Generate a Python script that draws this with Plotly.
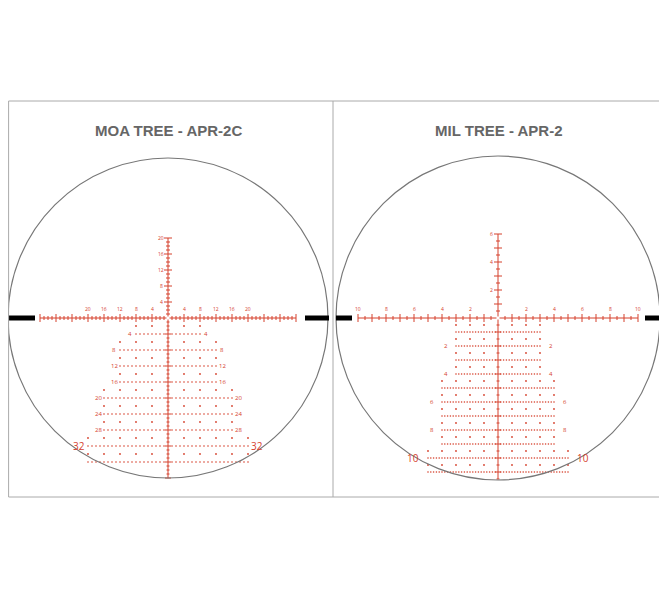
import plotly.graph_objects as go

RED = "#d5402c"
titles = ["MOA TREE - APR-2C", "MIL TREE - APR-2"]

# MOA reticle (units: MOA)
moa_h_labels = [4, 8, 12, 16, 20]
moa_v_labels = [4, 8, 12, 16, 20]
moa_rows = [4, 8, 12, 16, 20, 24, 28, 32, 36]
moa_row_half = [8, 12, 12, 12, 16, 16, 16, 20, 20]
moa_row_labels = ["4", "8", "12", "16", "20", "24", "28", "32", ""]

# MIL reticle (units: mil)
mil_h_labels = [2, 4, 6, 8, 10]
mil_v_labels = [2, 4, 6]
mil_rows = [1, 2, 3, 4, 5, 6, 7, 8, 9, 10, 11]
mil_row_half = [3, 3, 3, 3, 4, 4, 4, 4, 4, 5, 5]
mil_row_labels = ["", "2", "", "4", "", "6", "", "8", "", "10", ""]

fig = go.Figure()
shapes, ann = [], []

def seg(xs, ys, x0, y0, x1, y1):
    xs += [x0, x1, None]; ys += [y0, y1, None]

def reticle(cx, cy, R, s, hext, vup, vdown, hlabels, vlabels, rows, halfs, rlabels,
            tick_step, major, dot_step, sparse_step, bars):
    shapes.append(dict(type="circle", x0=cx-R, x1=cx+R, y0=cy-R, y1=cy+R,
                       line=dict(color="#777", width=1.2)))
    for b0, b1 in bars:
        shapes.append(dict(type="rect", x0=b0, x1=b1, y0=cy-2.5, y1=cy+2.5,
                           fillcolor="black", line_width=0))
    xs, ys = [], []
    seg(xs, ys, cx-hext*s, cy, cx-1.5, cy)
    seg(xs, ys, cx+1.5, cy, cx+hext*s, cy)
    seg(xs, ys, cx, cy-vup*s, cx, cy-1.5)
    seg(xs, ys, cx, cy+1.5, cx, cy+vdown*s)
    n = int(round(hext/tick_step))
    for i in range(1, n+1):
        u = i*tick_step
        h = 4 if abs(u/major-round(u/major)) < 1e-6 else 2
        for sg in (-1, 1):
            seg(xs, ys, cx+sg*u*s, cy-h, cx+sg*u*s, cy+h)
    n = int(round(vup/tick_step))
    for i in range(1, n+1):
        u = i*tick_step
        h = 4 if abs(u/major-round(u/major)) < 1e-6 else 2
        seg(xs, ys, cx-h, cy-u*s, cx+h, cy-u*s)
    n = int(round(vdown/tick_step))
    for i in range(1, n+1):
        u = i*tick_step
        h = 3 if abs(u/major-round(u/major)) < 1e-6 else 1.5
        seg(xs, ys, cx-h, cy+u*s, cx+h, cy+u*s)
    fig.add_trace(go.Scatter(x=xs, y=ys, mode="lines", line=dict(color=RED, width=1),
                             hoverinfo="skip"))
    for v in hlabels:
        for sg in (-1, 1):
            ann.append(dict(x=cx+sg*v*s, y=cy-9, text=str(v), showarrow=False,
                            font=dict(size=5, color=RED)))
    for v in vlabels:
        ann.append(dict(x=cx-7, y=cy-v*s, text=str(v), showarrow=False,
                        font=dict(size=5, color=RED)))
    dx, dy, sx, sy = [], [], [], []
    prev = 0
    for r, hw, lab in zip(rows, halfs, rlabels):
        y = cy + r*s
        k = int(round(hw/dot_step))
        for i in range(-k, k+1):
            if i != 0:
                dx.append(cx+i*dot_step*s); dy.append(y)
        ym = cy + (r - (r-prev)/2)*s
        ks = int(round(hw/sparse_step))
        for i in range(-ks, ks+1):
            if i != 0:
                sx.append(cx+i*sparse_step*s); sy.append(ym)
        prev = r
        if lab:
            big = lab in ("32", "10")
            off = (hw + (2.2 if big else 1.5)*(1 if s < 5 else 0.5))*s
            for sg in (-1, 1):
                ann.append(dict(x=cx+sg*off, y=y, text=lab, showarrow=False,
                                font=dict(size=10 if big else 6, color=RED)))
    fig.add_trace(go.Scatter(x=dx, y=dy, mode="markers", marker=dict(color=RED, size=1.6),
                             hoverinfo="skip"))
    fig.add_trace(go.Scatter(x=sx, y=sy, mode="markers", marker=dict(color=RED, size=1.8),
                             hoverinfo="skip"))

reticle(168, 318, 160, 4, 32, 20, 40, moa_h_labels, moa_v_labels, moa_rows,
        moa_row_half, moa_row_labels, 1, 4, 1, 4, [(8.5, 35), (305, 329)])
reticle(498, 318, 162, 14, 10, 6, 11.5, mil_h_labels, mil_v_labels, mil_rows,
        mil_row_half, mil_row_labels, 0.5, 1, 0.2, 1, [(336, 352), (645, 660)])

shapes.append(dict(type="rect", x0=8.6, x1=662, y0=101, y1=497, line=dict(color="#aaa", width=1)))
shapes.append(dict(type="line", x0=333, x1=333, y0=101, y1=497, line=dict(color="#aaa", width=1)))
for t, x in zip(titles, [168, 499]):
    ann.append(dict(x=x, y=130, text="<b>"+t+"</b>", showarrow=False,
                    font=dict(size=15, color="#666", family="Arial, Liberation Sans")))

# page body has an 8px margin; shift the axis ranges to compensate
fig.update_layout(width=667, height=600, margin=dict(l=0, r=0, t=0, b=0),
                  plot_bgcolor="white", paper_bgcolor="white", showlegend=False,
                  shapes=shapes, annotations=ann,
                  xaxis=dict(range=[8, 675], visible=False, fixedrange=True),
                  yaxis=dict(range=[608, 8], visible=False, fixedrange=True))
fig.write_html("out.html", config={"displayModeBar": False})
